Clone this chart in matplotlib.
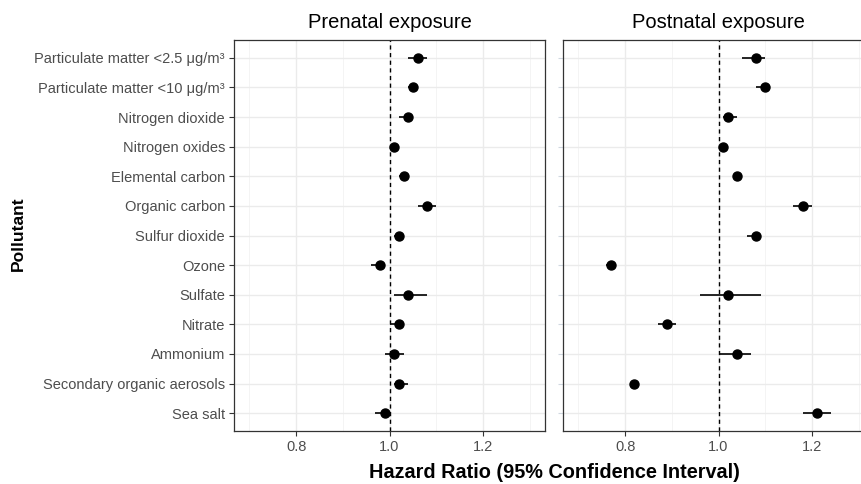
import numpy as np
import matplotlib
matplotlib.use("Agg")
import matplotlib.pyplot as plt
from matplotlib.ticker import MultipleLocator, FormatStrFormatter

plt.rcParams['font.family'] = ['Liberation Sans', 'DejaVu Sans']

# pollutants, top to bottom
pollutants = ["Particulate matter <2.5 μg/m³", "Particulate matter <10 μg/m³",
              "Nitrogen dioxide", "Nitrogen oxides", "Elemental carbon",
              "Organic carbon", "Sulfur dioxide", "Ozone", "Sulfate", "Nitrate",
              "Ammonium", "Secondary organic aerosols", "Sea salt"]

# prenatal hazard ratios with 95% CI
pre_hr = [1.06, 1.05, 1.04, 1.01, 1.03, 1.08, 1.02, 0.98, 1.04, 1.02, 1.01, 1.02, 0.99]
pre_lo = [1.04, 1.04, 1.02, 1.00, 1.02, 1.06, 1.01, 0.96, 1.01, 1.00, 0.99, 1.01, 0.97]
pre_hi = [1.08, 1.06, 1.05, 1.02, 1.04, 1.10, 1.03, 0.99, 1.08, 1.03, 1.03, 1.04, 1.00]

# postnatal hazard ratios with 95% CI
post_hr = [1.08, 1.10, 1.02, 1.01, 1.04, 1.18, 1.08, 0.77, 1.02, 0.89, 1.04, 0.82, 1.21]
post_lo = [1.05, 1.08, 1.01, 1.00, 1.03, 1.16, 1.06, 0.76, 0.96, 0.87, 1.00, 0.81, 1.18]
post_hi = [1.10, 1.11, 1.04, 1.02, 1.05, 1.20, 1.09, 0.78, 1.09, 0.91, 1.07, 0.83, 1.24]

titles = ["Prenatal exposure", "Postnatal exposure"]

grey30 = "#4D4D4D"

fig = plt.figure(figsize=(8.62, 4.84), dpi=100)
ax1 = fig.add_axes([234/862, 53/484, 311/862, 391/484])
ax2 = fig.add_axes([563/862, 53/484, 311/862, 391/484])

ypos = np.arange(len(pollutants))[::-1] + 1

for ax, hr, lo, hi, title in [(ax1, pre_hr, pre_lo, pre_hi, titles[0]),
                              (ax2, post_hr, post_lo, post_hi, titles[1])]:
    ax.hlines(ypos, lo, hi, color="black", lw=1.2, zorder=3)
    ax.plot(hr, ypos, "o", color="black", ms=6.5, zorder=4)
    ax.axvline(1.0, color="black", ls=(0, (3, 2.5)), lw=1.0, zorder=2)
    ax.set_xlim(0.667, 1.333)
    ax.set_ylim(0.4, len(pollutants) + 0.6)
    ax.xaxis.set_major_locator(MultipleLocator(0.2))
    ax.xaxis.set_minor_locator(MultipleLocator(0.1))
    ax.xaxis.set_major_formatter(FormatStrFormatter("%.1f"))
    ax.set_yticks(ypos)
    ax.grid(which="major", color="#EBEBEB", lw=1.0, zorder=0)
    ax.grid(which="minor", axis="x", color="#F2F2F2", lw=0.6, zorder=0)
    ax.set_axisbelow(True)
    ax.tick_params(axis="x", which="minor", length=0)
    ax.tick_params(which="major", length=3.5, width=0.8, color="#333333",
                   labelsize=10.5, labelcolor=grey30, pad=3)
    for s in ax.spines.values():
        s.set_color("#333333")
        s.set_linewidth(0.9)
    ax.set_title(title, fontsize=14.5, pad=9)

ax1.set_yticklabels(pollutants, fontsize=10.5, color=grey30)
ax2.set_yticklabels([])
ax2.tick_params(axis="y", color="#D0D8E0")

fig.text(18/862, 1 - 234/484, "Pollutant", rotation=90, ha="center", va="center",
         fontsize=12.5, fontweight="bold")
fig.text(554/862, 1 - 473/484, "Hazard Ratio (95% Confidence Interval)", ha="center",
         va="center", fontsize=14.3, fontweight="bold")

fig.savefig("out.png", dpi=100)
